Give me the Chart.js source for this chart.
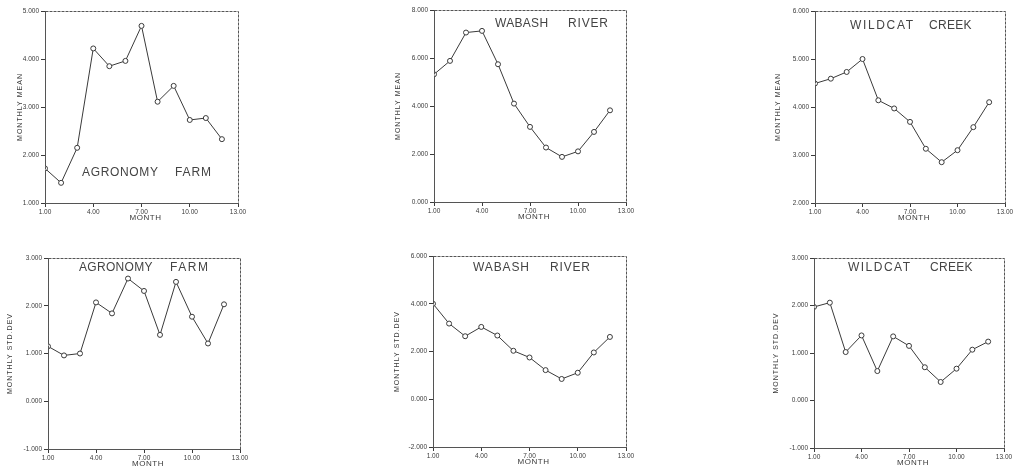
<!DOCTYPE html>
<html>
<head>
<meta charset="utf-8">
<script src="https://cdn.jsdelivr.net/npm/chart.js@4.4.1/dist/chart.umd.min.js"></script>
<style>
html,body{margin:0;padding:0;background:#fff;overflow:hidden;width:1016px;height:475px;}
canvas{position:absolute;}
</style>
</head>
<body>
<script>
// ---- data ----
const months = [1, 2, 3, 4, 5, 6, 7, 8, 9, 10, 11, 12];
const xTicks = [1, 4, 7, 10, 13];

const agronomyMean = [1.72, 1.42, 2.15, 4.22, 3.85, 3.96, 4.69, 3.11, 3.44, 2.73, 2.77, 2.33];
const wabashMean   = [5.32, 5.88, 7.06, 7.13, 5.74, 4.10, 3.13, 2.27, 1.88, 2.11, 2.92, 3.82];
const wildcatMean  = [4.49, 4.59, 4.73, 5.00, 4.14, 3.97, 3.69, 3.13, 2.85, 3.10, 3.58, 4.10];

const agronomyStd  = [1.15, 0.96, 1.00, 2.07, 1.84, 2.57, 2.31, 1.39, 2.50, 1.77, 1.21, 2.03];
const wabashStd    = [4.00, 3.17, 2.64, 3.03, 2.67, 2.03, 1.75, 1.22, 0.85, 1.11, 1.96, 2.61];
const wildcatStd   = [1.97, 2.06, 1.02, 1.37, 0.62, 1.35, 1.15, 0.70, 0.39, 0.67, 1.07, 1.24];

const yTicksAgronomyMean = [1, 2, 3, 4, 5];
const yTicksWabashMean   = [0, 2, 4, 6, 8];
const yTicksWildcatMean  = [2, 3, 4, 5, 6];
const yTicksAgronomyStd  = [-1, 0, 1, 2, 3];
const yTicksWabashStd    = [-2, 0, 2, 4, 6];
const yTicksWildcatStd   = [-1, 0, 1, 2, 3];

const titleAgronomy = ["AGRONOMY", "FARM"];
const titleWabash = ["WABASH", "RIVER"];
const titleWildcat = ["WILDCAT", "CREEK"];
const yTitleMean = "MONTHLY MEAN";
const yTitleStd = "MONTHLY STD.DEV";
const xTitle = "MONTH";

// ---- layout ----
const L = 45, T = 8, R = 14, B = 24;
const INK = '#3a3a3a';

const panels = [
  {values: agronomyMean, yTicks: yTicksAgronomyMean, title: titleAgronomy, yTitle: yTitleMean,
   left: 45, top: 11, w: 193, h: 192, words: [[82, 158], [175, 211]], ty: 173, ytx: 25},
  {values: wabashMean, yTicks: yTicksWabashMean, title: titleWabash, yTitle: yTitleMean,
   left: 434, top: 10, w: 192, h: 192, words: [[495, 548], [568, 608]], ty: 24, ytx: 36},
  {values: wildcatMean, yTicks: yTicksWildcatMean, title: titleWildcat, yTitle: yTitleMean,
   left: 815, top: 11, w: 190, h: 192, words: [[850, 913], [929, 971]], ty: 26, ytx: 37},
  {values: agronomyStd, yTicks: yTicksAgronomyStd, title: titleAgronomy, yTitle: yTitleStd,
   left: 48, top: 258, w: 192, h: 191, words: [[79, 152], [170, 208]], ty: 268, ytx: 38},
  {values: wabashStd, yTicks: yTicksWabashStd, title: titleWabash, yTitle: yTitleStd,
   left: 433, top: 256, w: 193, h: 191, words: [[473, 529], [550, 590]], ty: 268, ytx: 36},
  {values: wildcatStd, yTicks: yTicksWildcatStd, title: titleWildcat, yTitle: yTitleStd,
   left: 814, top: 258, w: 190, h: 190, words: [[848, 910], [930, 971]], ty: 268, ytx: 38},
];

const decor = {
  id: 'decor',
  afterDraw(chart, args, opts) {
    const ctx = chart.ctx, a = chart.chartArea;
    ctx.save();
    // frame
    ctx.strokeStyle = '#555';
    ctx.lineWidth = 1;
    ctx.setLineDash([3, 1]);
    ctx.strokeRect(Math.round(a.left) + 0.5, Math.round(a.top) + 0.5,
                   Math.round(a.right - a.left), Math.round(a.bottom - a.top));
    ctx.setLineDash([]);
    // panel title inside plot, each word fitted into its box
    ctx.fillStyle = '#444';
    ctx.font = '12px "Liberation Sans", Arial, sans-serif';
    ctx.textBaseline = 'middle';
    ctx.textAlign = 'left';
    opts.title.forEach((word, i) => {
      const box = opts.words[i];
      ctx.letterSpacing = '0px';
      const w0 = ctx.measureText(word).width;
      const target = box[1] - box[0];
      const sp = Math.max(0.3, (target - w0) / Math.max(1, word.length - 1));
      ctx.letterSpacing = sp.toFixed(2) + 'px';
      ctx.fillText(word, box[0] - opts.ox, opts.ty - opts.oy);
    });
    // y axis title
    ctx.fillStyle = INK;
    ctx.font = '7px "Liberation Sans", Arial, sans-serif';
    ctx.letterSpacing = '1px';
    ctx.textAlign = 'center';
    ctx.translate(a.left - opts.ytx, (a.top + a.bottom) / 2);
    ctx.rotate(-Math.PI / 2);
    ctx.fillText(opts.yTitle, 0, 0);
    ctx.restore();
    // x axis title
    ctx.save();
    ctx.fillStyle = INK;
    ctx.font = '8px "Liberation Sans", Arial, sans-serif';
    ctx.letterSpacing = '0.5px';
    ctx.textAlign = 'center';
    ctx.textBaseline = 'middle';
    ctx.fillText(xTitle, (a.left + a.right) / 2 + 4, a.bottom + 15);
    ctx.restore();
  }
};

panels.forEach((p) => {
  const cv = document.createElement('canvas');
  const cw = p.w + L + R, ch = p.h + T + B;
  cv.width = cw; cv.height = ch;
  cv.style.width = cw + 'px'; cv.style.height = ch + 'px';
  cv.style.left = (p.left - L) + 'px';
  cv.style.top = (p.top - T) + 'px';
  document.body.appendChild(cv);

  const yMin = p.yTicks[0], yMax = p.yTicks[p.yTicks.length - 1];
  new Chart(cv.getContext('2d'), {
    type: 'line',
    data: {
      datasets: [{
        data: months.map((m, i) => ({x: m, y: p.values[i]})),
        borderColor: INK,
        borderWidth: 1,
        pointRadius: 2.5,
        pointBorderWidth: 1,
        pointBorderColor: INK,
        pointBackgroundColor: '#fff',
        tension: 0,
        fill: false
      }]
    },
    options: {
      responsive: false,
      animation: false,
      devicePixelRatio: 1,
      layout: {padding: {left: 0, top: T, right: R, bottom: 0}},
      plugins: {
        legend: {display: false},
        tooltip: {enabled: false},
        decor: {title: p.title, yTitle: p.yTitle, words: p.words, ty: p.ty,
                ox: p.left - L, oy: p.top - T, ytx: p.ytx}
      },
      scales: {
        x: {
          type: 'linear',
          min: xTicks[0], max: xTicks[xTicks.length - 1],
          afterBuildTicks: s => { s.ticks = xTicks.map(v => ({value: v})); },
          afterFit: s => { s.height = B; },
          grid: {display: true, drawOnChartArea: false, drawTicks: true, tickLength: 4, color: INK},
          border: {display: true, color: '#555'},
          ticks: {
            autoSkip: false, maxRotation: 0, padding: 1,
            color: INK,
            font: {size: 6.5, family: '"Liberation Sans", Arial, sans-serif'},
            callback: v => Number(v).toFixed(2)
          }
        },
        y: {
          type: 'linear',
          min: yMin, max: yMax,
          afterBuildTicks: s => { s.ticks = p.yTicks.map(v => ({value: v})); },
          afterFit: s => { s.width = L; },
          grid: {display: true, drawOnChartArea: false, drawTicks: true, tickLength: 4, color: INK},
          border: {display: true, color: '#555'},
          ticks: {
            autoSkip: false, padding: 2,
            color: INK,
            font: {size: 6.5, family: '"Liberation Sans", Arial, sans-serif'},
            callback: v => Number(v).toFixed(3)
          }
        }
      }
    },
    plugins: [decor]
  });
});
</script>
</body>
</html>
